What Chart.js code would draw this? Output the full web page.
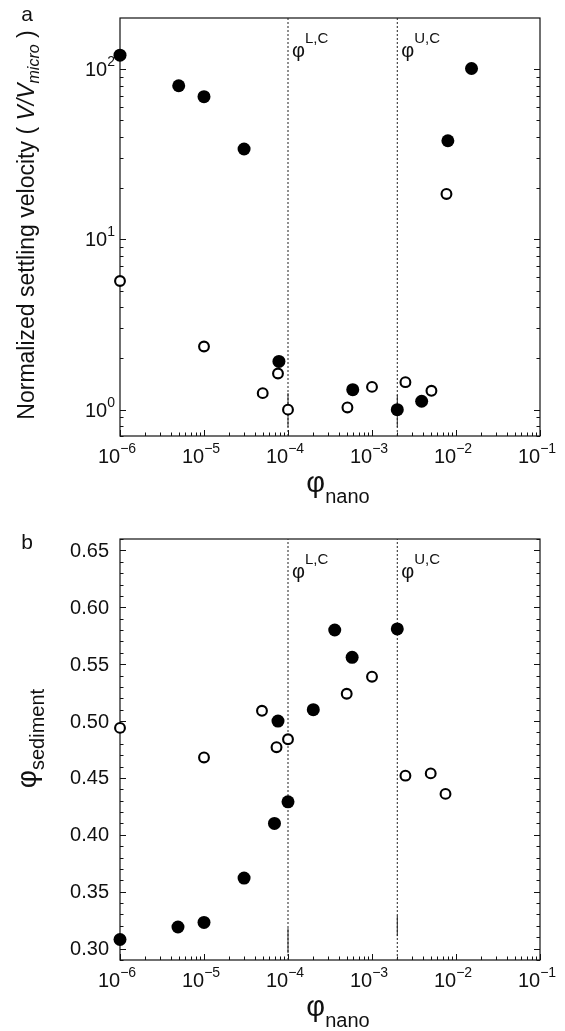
<!DOCTYPE html>
<html>
<head>
<meta charset="utf-8">
<script src="https://cdn.jsdelivr.net/npm/chart.js@4.4.1/dist/chart.umd.min.js"></script>
<style>
  html, body { margin: 0; padding: 0; background: #fff; }
  canvas { display: block; }
</style>
</head>
<body>
<canvas id="velocityChart" width="565" height="520"></canvas>
<canvas id="sedimentChart" width="565" height="511"></canvas>
<script>
// shared x axis: nanoparticle volume fraction
const phiMin = 1e-6;
const phiMax = 1e-1;
const phiDecades = [1e-6, 1e-5, 1e-4, 1e-3, 1e-2, 1e-1];
const phiExponents = ['−6', '−5', '−4', '−3', '−2', '−1'];

// critical concentrations (dotted lines)
const phiLowerCrit = 1e-4;
const phiUpperCrit = 2e-3;

// panel a: normalized settling velocity
const velMin = 0.7;
const velMax = 200;
const velDecades = [1, 10, 100];
const velExponents = ['0', '1', '2'];
const velFilledX = [1e-6, 5e-6, 1e-5, 3e-5, 7.8e-5, 5.9e-4, 2e-3, 3.9e-3, 8e-3, 1.53e-2];
const velFilledY = [121, 80, 69, 34, 1.92, 1.31, 1.0, 1.12, 38, 101];
const velOpenX = [1e-6, 1e-5, 5e-5, 7.6e-5, 1e-4, 5.1e-4, 1e-3, 2.5e-3, 5.1e-3, 7.7e-3];
const velOpenY = [5.7, 2.35, 1.25, 1.63, 1.0, 1.03, 1.36, 1.45, 1.29, 18.5];
const velBarX = [1e-4, 2e-3];
const velBarLow = [0.79, 0.79];
const velBarHigh = [1.25, 1.22];

// panel b: sediment volume fraction
const sedMin = 0.29;
const sedMax = 0.66;
const sedTicks = [0.30, 0.35, 0.40, 0.45, 0.50, 0.55, 0.60, 0.65];
const sedTickLabels = ['0.30', '0.35', '0.40', '0.45', '0.50', '0.55', '0.60', '0.65'];
const sedFilledX = [1e-6, 4.9e-6, 1e-5, 3e-5, 6.9e-5, 1e-4, 7.6e-5, 2e-4, 3.6e-4, 5.8e-4, 2e-3];
const sedFilledY = [0.308, 0.319, 0.323, 0.362, 0.410, 0.429, 0.500, 0.510, 0.580, 0.556, 0.581];
const sedOpenX = [1e-6, 1e-5, 4.9e-5, 7.3e-5, 1e-4, 5e-4, 1e-3, 2.5e-3, 5e-3, 7.5e-3];
const sedOpenY = [0.494, 0.468, 0.509, 0.477, 0.484, 0.524, 0.539, 0.452, 0.454, 0.436];
const sedBarX = [1e-4, 2e-3];
const sedBarLow = [0.296, 0.311];
const sedBarHigh = [0.318, 0.329];

const FONT = '"Liberation Sans", Arial, sans-serif';
const INK = '#111';

const toPoints = (xs, ys) => xs.map((x, i) => ({ x, y: ys[i] }));

function logMinors(decades, lo, hi) {
  const out = [];
  for (const d of [decades[0] / 10, ...decades]) {
    for (let k = 2; k <= 9; k++) {
      const v = d * k;
      if (v > lo && v < hi) out.push(v);
    }
  }
  return out;
}

// "10" with a raised exponent
function drawPower(ctx, exp, x, baseY, align, size) {
  ctx.font = `${size}px ${FONT}`;
  const w1 = ctx.measureText('10').width;
  ctx.font = `${Math.round(size * 0.68)}px ${FONT}`;
  const w2 = ctx.measureText(exp).width;
  const total = w1 + w2;
  const start = align === 'center' ? x - total / 2 : x - total;
  ctx.textAlign = 'left';
  ctx.textBaseline = 'alphabetic';
  ctx.font = `${size}px ${FONT}`;
  ctx.fillText('10', start, baseY);
  ctx.font = `${Math.round(size * 0.68)}px ${FONT}`;
  ctx.fillText(exp, start + w1, baseY - 10);
}

// text made of runs with their own font and baseline shift
function drawRuns(ctx, runs, x, y, align) {
  let total = 0;
  for (const r of runs) {
    ctx.font = r.font;
    r.w = ctx.measureText(r.t).width;
    total += r.w;
  }
  let cx = align === 'center' ? x - total / 2 : x;
  ctx.textAlign = 'left';
  ctx.textBaseline = 'alphabetic';
  for (const r of runs) {
    ctx.font = r.font;
    ctx.fillText(r.t, cx, y + (r.dy || 0));
    cx += r.w;
  }
}

function critLabel(ctx, px, top, sup) {
  drawRuns(ctx, [
    { t: 'φ', font: `20px ${FONT}` },
    { t: sup, font: `15px ${FONT}`, dy: -14 },
  ], px + 4, top + 39, 'left');
}

const panelFrame = {
  id: 'panelFrame',
  beforeDatasetsDraw(chart, args, opts) {
    const { ctx, chartArea: a, scales: { x, y } } = chart;
    ctx.save();
    ctx.strokeStyle = INK;
    ctx.lineWidth = 1.2;
    ctx.strokeRect(a.left, a.top, a.right - a.left, a.bottom - a.top);
    ctx.lineWidth = 1;
    ctx.beginPath();
    const xTick = (v, len) => {
      const px = Math.round(x.getPixelForValue(v)) + 0.5;
      ctx.moveTo(px, a.bottom);
      ctx.lineTo(px, a.bottom - len);
    };
    const yTick = (v, len) => {
      const py = Math.round(y.getPixelForValue(v)) + 0.5;
      ctx.moveTo(a.left, py);
      ctx.lineTo(a.left + len, py);
      ctx.moveTo(a.right, py);
      ctx.lineTo(a.right - len, py);
    };
    phiDecades.forEach(v => xTick(v, 6));
    logMinors(phiDecades, phiMin, phiMax).forEach(v => xTick(v, 3.5));
    opts.yMajor.forEach(v => yTick(v, 6));
    opts.yMinor.forEach(v => yTick(v, 3.5));
    ctx.stroke();
    ctx.restore();
  },
  afterDraw(chart, args, opts) {
    const { ctx, chartArea: a, scales: { x, y } } = chart;
    ctx.save();
    ctx.fillStyle = INK;

    // x tick labels
    phiDecades.forEach((v, i) => {
      drawPower(ctx, phiExponents[i], x.getPixelForValue(v) - 3, a.bottom + 27, 'center', 20);
    });

    // y tick labels
    opts.yMajor.forEach((v, i) => {
      const py = y.getPixelForValue(v);
      if (opts.yPowers) {
        drawPower(ctx, opts.yLabels[i], a.left - 5, py + 7, 'right', 20);
      } else {
        ctx.font = `20px ${FONT}`;
        ctx.textAlign = 'right';
        ctx.textBaseline = 'middle';
        ctx.fillText(opts.yLabels[i], a.left - 11, py + 1);
      }
    });

    // x title
    drawRuns(ctx, [
      { t: 'φ', font: `29px ${FONT}` },
      { t: 'nano', font: `20px ${FONT}`, dy: 11 },
    ], 338, a.bottom + 56, 'center');

    // y title, rotated
    ctx.save();
    ctx.translate(opts.yTitleX, (a.top + a.bottom) / 2 + opts.yTitleShift);
    ctx.rotate(-Math.PI / 2);
    drawRuns(ctx, opts.yTitle, 0, 0, 'center');
    ctx.restore();

    // critical concentration labels
    critLabel(ctx, x.getPixelForValue(phiLowerCrit), a.top, 'L,C');
    critLabel(ctx, x.getPixelForValue(phiUpperCrit), a.top, 'U,C');

    // panel letter
    ctx.font = `21px ${FONT}`;
    ctx.textAlign = 'center';
    ctx.textBaseline = 'middle';
    ctx.fillText(opts.letter, 27, opts.letterY);
    ctx.restore();
  },
};

function critLine(xv, lo, hi) {
  return {
    data: [{ x: xv, y: lo }, { x: xv, y: hi }],
    showLine: true,
    borderColor: '#222',
    borderWidth: 1,
    borderDash: [2, 2],
    pointRadius: 0,
    order: 3,
  };
}

function barLines(xs, lows, highs) {
  return xs.map((xv, i) => ({
    data: [{ x: xv, y: lows[i] }, { x: xv, y: highs[i] }],
    showLine: true,
    borderColor: '#222',
    borderWidth: 1,
    pointRadius: 0,
    order: 2,
  }));
}

function filledSet(xs, ys) {
  return {
    data: toPoints(xs, ys),
    pointRadius: 6.5,
    pointBackgroundColor: '#000',
    pointBorderWidth: 0,
    clip: false,
    order: 0,
  };
}

function openSet(xs, ys) {
  return {
    data: toPoints(xs, ys),
    pointRadius: 4.9,
    pointBackgroundColor: '#fff',
    pointBorderColor: '#000',
    pointBorderWidth: 2.1,
    clip: false,
    order: 1,
  };
}

function makeChart(id, cfg) {
  return new Chart(document.getElementById(id), {
    type: 'scatter',
    data: { datasets: cfg.datasets },
    options: {
      responsive: false,
      animation: false,
      devicePixelRatio: 1,
      events: [],
      layout: { padding: { left: 0, right: 25, top: cfg.top, bottom: 0 } },
      plugins: {
        legend: { display: false },
        tooltip: { enabled: false },
        panelFrame: cfg.frame,
      },
      scales: {
        x: {
          type: 'logarithmic',
          min: phiMin,
          max: phiMax,
          grid: { display: false },
          border: { display: false },
          ticks: { display: false },
          afterFit: s => { s.height = cfg.xHeight; },
        },
        y: {
          type: cfg.yType,
          min: cfg.yMin,
          max: cfg.yMax,
          grid: { display: false },
          border: { display: false },
          ticks: { display: false },
          afterFit: s => { s.width = 120; },
        },
      },
    },
    plugins: [panelFrame],
  });
}

// panel a
makeChart('velocityChart', {
  top: 18,
  xHeight: 84,
  yType: 'logarithmic',
  yMin: velMin,
  yMax: velMax,
  datasets: [
    filledSet(velFilledX, velFilledY),
    openSet(velOpenX, velOpenY),
    ...barLines(velBarX, velBarLow, velBarHigh),
    critLine(phiLowerCrit, velMin, velMax),
    critLine(phiUpperCrit, velMin, velMax),
  ],
  frame: {
    yMajor: velDecades,
    yMinor: logMinors(velDecades, velMin, velMax),
    yLabels: velExponents,
    yPowers: true,
    yTitleX: 34,
    yTitleShift: -2,
    yTitle: [
      { t: 'Normalized settling velocity ( ', font: `23px ${FONT}` },
      { t: 'V/V', font: `italic 23px ${FONT}` },
      { t: 'micro', font: `italic 16px ${FONT}`, dy: 5 },
      { t: ' )', font: `23px ${FONT}` },
    ],
    letter: 'a',
    letterY: 15,
  },
});

// panel b
const sedMinor = [];
for (let k = 29; k <= 66; k++) {
  if (k % 5 !== 0) sedMinor.push(k / 100);
}

makeChart('sedimentChart', {
  top: 19,
  xHeight: 71,
  yType: 'linear',
  yMin: sedMin,
  yMax: sedMax,
  datasets: [
    filledSet(sedFilledX, sedFilledY),
    openSet(sedOpenX, sedOpenY),
    ...barLines(sedBarX, sedBarLow, sedBarHigh),
    critLine(phiLowerCrit, sedMin, sedMax),
    critLine(phiUpperCrit, sedMin, sedMax),
  ],
  frame: {
    yMajor: sedTicks,
    yMinor: sedMinor,
    yLabels: sedTickLabels,
    yPowers: false,
    yTitleX: 36,
    yTitleShift: -11,
    yTitle: [
      { t: 'φ', font: `28px ${FONT}` },
      { t: 'sediment', font: `20px ${FONT}`, dy: 8 },
    ],
    letter: 'b',
    letterY: 23,
  },
});
</script>
</body>
</html>
